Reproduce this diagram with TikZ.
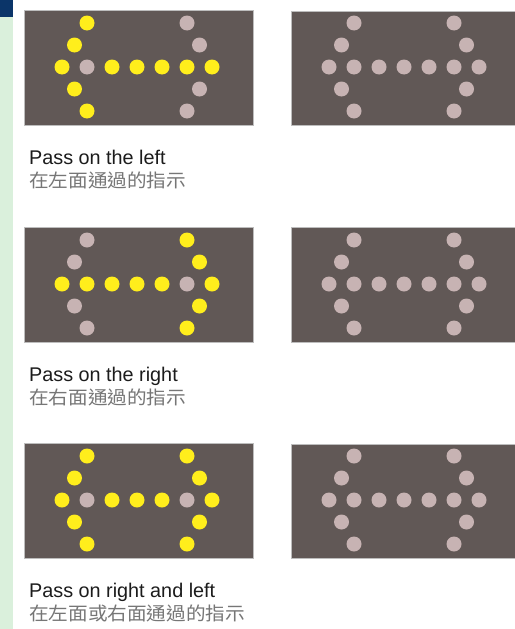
\documentclass[tikz,border=0pt]{standalone}
\usepackage{fontspec}
\setmainfont{Liberation Sans}
\newfontfamily\cjk[FakeStretch=1.06]{Noto Sans CJK TC}
\definecolor{stripgreen}{HTML}{DAF0DC}
\definecolor{stripblue}{HTML}{0B3569}
\definecolor{panelfill}{HTML}{615856}
\definecolor{panelborder}{HTML}{BDBDBD}
\definecolor{Y}{HTML}{FFEE1C}
\definecolor{G}{HTML}{C7B3B3}
\definecolor{entext}{HTML}{1C1C1C}
\definecolor{zhtext}{HTML}{767676}
\tikzset{
  panelbox/.style={draw=panelborder, line width=0.8pt, fill=panelfill},
  dot/.style={circle, inner sep=0pt, minimum size=15pt, draw=none},
  entitle/.style={anchor=base west, inner sep=0pt, text=entext, font=\fontsize{19.8}{22}\selectfont},
  zhtitle/.style={anchor=base west, inner sep=0pt, text=zhtext, font=\fontsize{18.5}{22}\selectfont\cjk},
}
% #1 name, #2 x of column 0, #3 y of centre row, #4 left diagonal colour, #5 right diagonal colour, #6 centre row list
\newcommand\signdots[6]{%
  \foreach \c/\cl in {#6}{\node[dot,fill=\cl] (#1-m\c) at ({#2+25*\c},#3) {};}
  \foreach \dx/\dy/\k in {0.5/-22/a,0.5/22/b,1/-44/c,1/44/d}{\node[dot,fill=#4] (#1-l\k) at ({#2+25*\dx},{#3+\dy}) {};}
  \foreach \dx/\dy/\k in {5.5/-22/a,5.5/22/b,5/-44/c,5/44/d}{\node[dot,fill=#5] (#1-r\k) at ({#2+25*\dx},{#3+\dy}) {};}
}
\begin{document}
\begin{tikzpicture}[x=1pt,y=-1pt]
\useasboundingbox (0,0) rectangle (514,629);
\fill[white] (0,0) rectangle (514,629);
\fill[stripgreen] (0,17) rectangle (13,629);
\fill[stripblue] (0,0) rectangle (13,17);

% row 1
\path[panelbox] (24,10) rectangle (253,125);
\path[panelbox] (291,11) rectangle (516,125);
\signdots{p1}{62}{67}{Y}{G}{0/Y,1/G,2/Y,3/Y,4/Y,5/Y,6/Y}
\signdots{q1}{329}{67}{G}{G}{0/G,1/G,2/G,3/G,4/G,5/G,6/G}
\node[entitle] (t1) at (29,164) {Pass on the left};
\node[zhtitle] (z1) at (29,187) {在左面通過的指示};

% row 2
\path[panelbox] (24,227) rectangle (253,342);
\path[panelbox] (291,227) rectangle (516,342);
\signdots{p2}{62}{284}{G}{Y}{0/Y,1/Y,2/Y,3/Y,4/Y,5/G,6/Y}
\signdots{q2}{329}{284}{G}{G}{0/G,1/G,2/G,3/G,4/G,5/G,6/G}
\node[entitle] (t2) at (29,381) {Pass on the right};
\node[zhtitle] (z2) at (29,404) {在右面通過的指示};

% row 3
\path[panelbox] (24,443) rectangle (253,558);
\path[panelbox] (291,444) rectangle (516,558);
\signdots{p3}{62}{500}{Y}{Y}{0/Y,1/G,2/Y,3/Y,4/Y,5/G,6/Y}
\signdots{q3}{329}{500}{G}{G}{0/G,1/G,2/G,3/G,4/G,5/G,6/G}
\node[entitle] (t3) at (29,597) {Pass on right and left};
\node[zhtitle] (z3) at (29,620) {在左面或右面通過的指示};
\end{tikzpicture}
\end{document}
